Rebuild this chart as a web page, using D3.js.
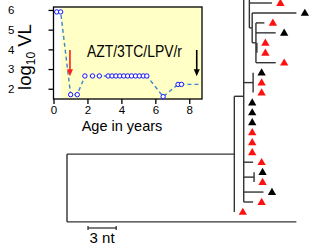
<!DOCTYPE html>
<html>
<head>
<meta charset="utf-8">
<script src="https://cdn.jsdelivr.net/npm/d3@7"></script>
<style>
  body { margin: 0; background: #fff; }
  text { font-family: "Liberation Sans", Arial, sans-serif; }
</style>
</head>
<body>
<div id="chart"></div>
<script>
// Wymiary całego obrazka
var width = 311
var height = 250

// ---- Dane wstawki: wiremia w czasie (wiek w latach, log10 VL)
var ageYears = [0.19, 0.42, 1.01, 1.40, 1.85, 2.30, 2.70, 3.22, 3.45, 3.68, 3.91, 4.14, 4.37,
                4.60, 4.83, 5.06, 5.29, 5.50, 6.46, 7.34, 7.54, 8.56]
var log10VL  = [5.9, 5.9, 1.7, 1.7, 2.65, 2.65, 2.65, 2.65, 2.65, 2.65, 2.65, 2.65, 2.65,
                2.65, 2.65, 2.65, 2.65, 2.65, 1.6, 2.22, 2.22, 2.22]
var treatStart = 0.45          // początek terapii (żółte tło)
var ageTicks = [0, 2, 4, 6, 8]
var vlTicks = [2, 3, 4, 5, 6]
var redArrowAge = 0.97
var blackArrowAge = 8.44
var regimen = "AZT/3TC/LPV/r"

// ---- Dane drzewa: węzły, rodzice, odległość od korzenia (nt)
var nodeIds     = ["root", "A", "B", "C", "t_up", "t0", "N1", "t1", "P", "t2", "t3", "Q", "t4", "t5", "t6",
                   "D", "t7", "t8", "t9", "t10", "t11", "t12", "t13", "t14", "t15", "t16",
                   "E", "t17", "t18", "t19", "t20", "t21", "out"]
var nodeParents = ["", "root", "A", "B", "C", "C", "C", "N1", "N1", "P", "P", "P", "Q", "Q", "P",
                   "B", "D", "D", "D", "B", "B", "B", "B", "B", "B", "B",
                   "B", "E", "E", "B", "B", "A", "root"]
var nodeDepths  = [0, 17.8, 18.8, 19.4, 21.0, 21.8, 19.7, 24.4, 20.1, 21.0, 22.2, 20.2, 20.2, 20.2, 22.2,
                   19.8, 19.8, 19.8, 19.8, 18.8, 18.8, 18.8, 18.8, 18.8, 18.8, 19.8,
                   19.9, 19.9, 19.9, 20.9, 19.8, 17.8, 24.4]

// liście: kolejność (wiersz) i kolor trójkąta
var tipIds   = ["t_up", "t0", "t1", "t2", "t3", "t4", "t5", "t6", "t7", "t8", "t9", "t10",
                "t11", "t12", "t13", "t14", "t15", "t16", "t17", "t18", "t19", "t20", "t21", "out"]
var tipRows  = [-5, 0, 1, 2, 3, 4, 5, 6, 7, 8, 9, 10, 11, 12, 13, 14, 15, 16, 17, 18, 19, 20, 21, 22]
var tipColor = ["none", "red", "black", "red", "black", "red", "red", "red", "black", "red", "red", "black",
                "black", "black", "red", "red", "red", "red", "black", "red", "black", "red", "red", "none"]
var scaleBarNt = 3

var svg = d3.select("#chart")
  .append("svg")
    .attr("width", width)
    .attr("height", height)

// ================= DRZEWO =================
var xTree = d3.scaleLinear().domain([0, 25]).range([67, 302])
var yTree = d3.scaleLinear().domain([0, 22]).range([3, 221.9])

var table = nodeIds.map(function(id, i) {
  return { id: id, parent: nodeParents[i] || null, depth: nodeDepths[i] }
})
var tree = d3.stratify().id(function(d) { return d.id }).parentId(function(d) { return d.parent })(table)

var rowOf = {}, colorOf = {}
tipIds.forEach(function(id, i) { rowOf[id] = tipRows[i]; colorOf[id] = tipColor[i] })

// y węzła wewnętrznego = środek między pierwszym i ostatnim dzieckiem
tree.eachAfter(function(n) {
  n.px = xTree(n.data.depth)
  if (!n.children) n.py = yTree(rowOf[n.id])
  else n.py = (n.children[0].py + n.children[n.children.length - 1].py) / 2
})

var gTree = svg.append("g")
  .attr("fill", "none")
  .attr("stroke", "#333")
  .attr("stroke-width", 1.4)

// gałęzie poziome
gTree.selectAll(".hbranch")
  .data(tree.descendants().filter(function(n) { return n.parent }))
  .enter().append("line")
    .attr("x1", function(n) { return n.parent.px })
    .attr("x2", function(n) { return n.px })
    .attr("y1", function(n) { return n.py })
    .attr("y2", function(n) { return n.py })

// łączniki pionowe
gTree.selectAll(".vbranch")
  .data(tree.descendants().filter(function(n) { return n.children }))
  .enter().append("line")
    .attr("x1", function(n) { return n.px })
    .attr("x2", function(n) { return n.px })
    .attr("y1", function(n) { return n.children[0].py })
    .attr("y2", function(n) { return n.children[n.children.length - 1].py })

// trójkąty na końcach liści
svg.selectAll(".tip")
  .data(tree.leaves().filter(function(n) { return colorOf[n.id] !== "none" }))
  .enter().append("path")
    .attr("d", d3.symbol(d3.symbolTriangle, 30))
    .attr("transform", function(n) { return "translate(" + (n.px + 8.5) + "," + (n.py + 0.5) + ")" })
    .attr("fill", function(n) { return colorOf[n.id] === "red" ? "#ff1010" : "#000" })

// podziałka
var barX = 88, barY = 228
var barLen = xTree(scaleBarNt) - xTree(0)
var gBar = svg.append("g").attr("stroke", "#333").attr("stroke-width", 1.3)
gBar.append("line").attr("x1", barX).attr("x2", barX + barLen).attr("y1", barY).attr("y2", barY)
gBar.append("line").attr("x1", barX).attr("x2", barX).attr("y1", barY - 2).attr("y2", barY + 2)
gBar.append("line").attr("x1", barX + barLen).attr("x2", barX + barLen).attr("y1", barY - 2).attr("y2", barY + 2)
svg.append("text")
  .attr("x", barX + barLen / 2)
  .attr("y", 243)
  .attr("text-anchor", "middle")
  .style("font-size", "15px")
  .text(scaleBarNt + " nt")

// ================= WSTAWKA =================
var xAge = d3.scaleLinear().domain([0, 8.75]).range([53.5, 202])
var yVL = d3.scaleLinear().domain([1.48, 6.15]).range([99, 7])

var gIn = svg.append("g")

gIn.append("rect")
  .attr("x", xAge(treatStart))
  .attr("y", yVL(6.15))
  .attr("width", xAge(8.75) - xAge(treatStart))
  .attr("height", yVL(1.48) - yVL(6.15))
  .attr("fill", "#ffffc6")

var xAxis = gIn.append("g")
  .attr("transform", "translate(0," + yVL(1.48) + ")")
  .call(d3.axisBottom(xAge).tickValues(ageTicks).tickSize(5).tickPadding(2))
var yAxis = gIn.append("g")
  .attr("transform", "translate(" + xAge(0) + ",0)")
  .call(d3.axisLeft(yVL).tickValues(vlTicks).tickFormat(d3.format("d")).tickSize(5).tickPadding(34))
;[xAxis, yAxis].forEach(function(ax) {
  ax.select(".domain").remove()
  ax.selectAll("line").attr("stroke", "#000").attr("stroke-width", 1.3)
  ax.selectAll("text").style("font-size", "11.5px").style("font-family", "Liberation Sans, Arial, sans-serif").attr("fill", "#000")
})

// ramka
gIn.append("rect")
  .attr("x", xAge(0))
  .attr("y", yVL(6.15))
  .attr("width", xAge(8.75) - xAge(0))
  .attr("height", yVL(1.48) - yVL(6.15))
  .attr("fill", "none")
  .attr("stroke", "#000")
  .attr("stroke-width", 1.3)

// linia przerywana i punkty
var line = d3.line()
  .x(function(d, i) { return xAge(ageYears[i]) })
  .y(function(d) { return yVL(d) })
gIn.append("path")
  .attr("d", line(log10VL))
  .attr("fill", "none")
  .attr("stroke", "#3a86d0")
  .attr("stroke-width", 1.4)
  .attr("stroke-dasharray", "4,3")

gIn.selectAll(".pt")
  .data(log10VL.slice(0, -1))
  .enter().append("circle")
    .attr("cx", function(d, i) { return xAge(ageYears[i]) })
    .attr("cy", function(d) { return yVL(d) })
    .attr("r", 2.2)
    .attr("fill", "#fff")
    .attr("stroke", "#1414ff")
    .attr("stroke-width", 1)

// strzałki
function arrow(age, color) {
  var x = xAge(age), y0 = yVL(3.97), y1 = yVL(2.64)
  gIn.append("line").attr("x1", x).attr("x2", x).attr("y1", y0).attr("y2", y1 - 6)
    .attr("stroke", color).attr("stroke-width", 1.6)
  gIn.append("path")
    .attr("d", "M" + (x - 3) + "," + (y1 - 7) + "L" + (x + 3) + "," + (y1 - 7) + "L" + x + "," + y1 + "Z")
    .attr("fill", color)
}
arrow(redArrowAge, "#ff2020")
arrow(blackArrowAge, "#000")

gIn.append("text")
  .attr("x", 87)
  .attr("y", 57)
  .attr("textLength", 95)
  .attr("lengthAdjust", "spacingAndGlyphs")
  .style("font-size", "16.5px")
  .text(regimen)

// opisy osi
svg.append("text")
  .attr("x", 122)
  .attr("y", 131)
  .attr("text-anchor", "middle")
  .style("font-size", "14.5px")
  .text("Age in years")

var yl = svg.append("text")
  .attr("transform", "translate(31,57) rotate(-90)")
  .attr("text-anchor", "middle")
  .style("font-size", "18.5px")
yl.append("tspan").text("log")
yl.append("tspan").attr("dy", 4).style("font-size", "12px").text("10")
yl.append("tspan").attr("dy", -4).text(" VL")
</script>
</body>
</html>
